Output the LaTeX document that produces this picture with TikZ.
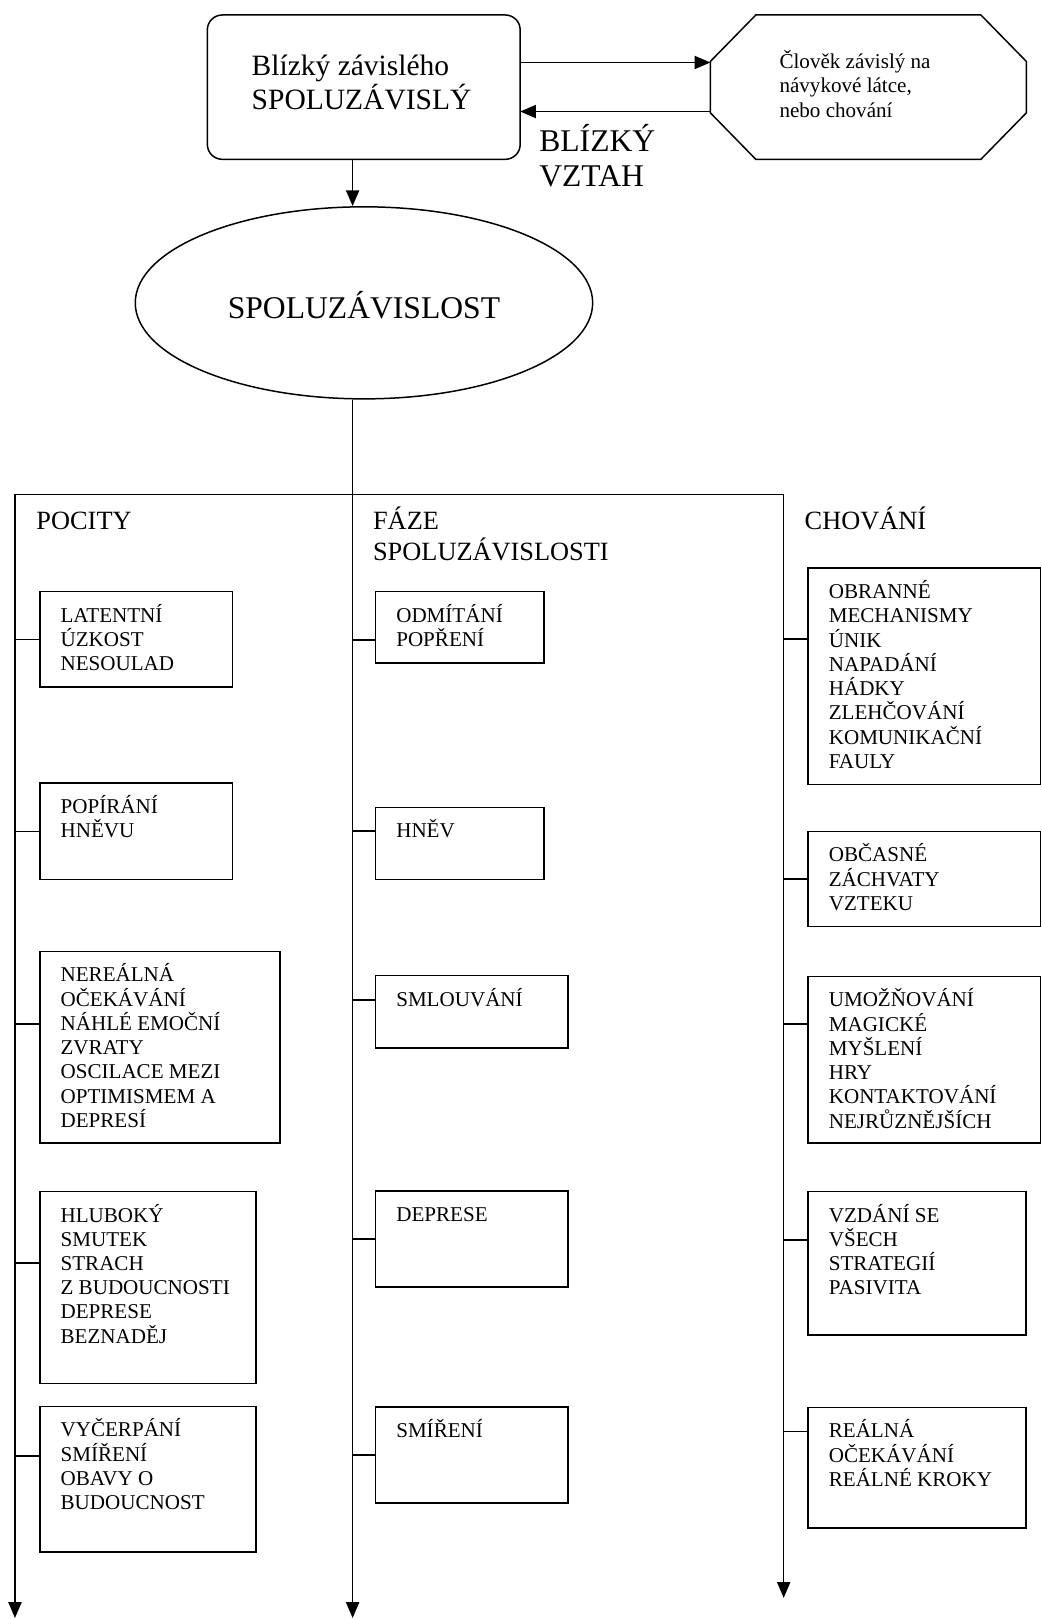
\documentclass[tikz,border=0pt]{standalone}
\usepackage{fontspec}
\setmainfont{Liberation Serif}
\usetikzlibrary{arrows.meta,shapes.geometric}

% one drawing unit
\newdimen\pxu
\pxu=0.020654cm

% framed block: width, height, left indent, first baseline, lines
\newcommand\framedtext[5]{\parbox[c][#2\pxu][t]{#1\pxu}{\raggedright\leftskip=#3\pxu\relax\rule{0pt}{#4\pxu}#5\par}}
% loose text block, referenced at its first baseline
\newcommand\textblock[2]{\parbox[t]{#1\pxu}{\raggedright #2}}
% branch from a trunk to the left side of a box
\newcommand\branch[3]{\draw[lw] ([yshift=#2\pxu]#1.west) -- ([yshift=#2\pxu]#1.west -| #3);}

\tikzset{
  lw/.style={line width=0.85pt},
  >={Triangle[length=9pt, width=7.5pt]},
  arr/.style={lw, ->},
  cell/.style={draw, lw, inner sep=0pt, outer sep=0pt, anchor=north west,
    font=\fontsize{12}{13.8}\selectfont},
  head/.style={inner sep=0pt, anchor=base west, font=\fontsize{15}{17.6}\selectfont},
}

\begin{document}
\begin{tikzpicture}[x=0.020654cm, y=-0.020654cm]
\fill[white] (0,0) rectangle (1009,1568);
\useasboundingbox (0,0) rectangle (1009,1568);

% top: the close person and the dependent person
\node[cell, rounded corners=8.5pt, font=\fontsize{16.8}{19.3}\selectfont] (r) at (200.8,14.5)
  {\framedtext{303}{139.8}{43}{59}{Blízký závislého\\SPOLUZÁVISLÝ}};
\node[inner sep=0pt, outer sep=0pt, anchor=north west, font=\fontsize{12}{13.8}\selectfont] (o) at (688,14.5)
  {\framedtext{306}{139.8}{67}{52}{Člověk závislý na\\návykové látce,\\nebo chování}};
\draw[lw] ([xshift=44\pxu]o.north west) -- ([xshift=-44\pxu]o.north east)
  -- ([yshift=-45\pxu]o.north east) -- ([yshift=45\pxu]o.south east)
  -- ([xshift=-44\pxu]o.south east) -- ([xshift=44\pxu]o.south west)
  -- ([yshift=45\pxu]o.south west) -- ([yshift=-45\pxu]o.north west) -- cycle;

\draw[arr] ([yshift=23.9\pxu]r.east) -- ([yshift=23.9\pxu]r.east -| o.west);
\draw[arr] ([yshift=-23.6\pxu]r.east -| o.west) -- ([yshift=-23.6\pxu]r.east);
\node[inner sep=0pt, anchor=base west, font=\fontsize{18}{20}\selectfont] (lbl) at (522,147)
  {\textblock{150}{BLÍZKÝ\\VZTAH}};

% central notion
\node[ellipse, draw, lw, minimum width=443\pxu, minimum height=186\pxu, inner sep=0pt,
  text height=17.6pt, text depth=0pt, font=\fontsize{18}{20.7}\selectfont] (e) at (352.5,293.3)
  {SPOLUZÁVISLOST};

% trunks
\coordinate (mid) at (341.5,0);
\coordinate (bl) at (14.5,479);
\coordinate (br) at (759,479);
\coordinate (lend) at (14.5,1567);
\coordinate (mend) at (341.5,1567);
\coordinate (rend) at (759,1547.5);

\draw[arr] (r.south -| mid) -- (e.north -| mid);
\draw[arr] (e.south -| mid) -- (mend);
\draw[lw, <->] (lend) -- (bl) -- (br) -- (rend);

% column headings
\node[head] (hp) at (35,513) {POCITY};
\node[head] (hf) at (361,513) {\textblock{300}{FÁZE\\SPOLUZÁVISLOSTI}};
\node[head] (hc) at (779,513) {CHOVÁNÍ};

% feelings
\node[cell] (p1) at (38.7,573) {\framedtext{186.3}{92.5}{20}{29.5}{LATENTNÍ\\ÚZKOST\\NESOULAD}};
\node[cell] (p2) at (38.7,758.5) {\framedtext{186.3}{93.5}{20}{29.5}{POPÍRÁNÍ\\HNĚVU}};
\node[cell] (p3) at (38.7,921.5) {\framedtext{232.3}{185.5}{20}{29.5}{NEREÁLNÁ\\OČEKÁVÁNÍ\\NÁHLÉ EMOČNÍ\\ZVRATY\\OSCILACE MEZI\\OPTIMISMEM A\\DEPRESÍ}};
\node[cell] (p4) at (38.7,1154) {\framedtext{209.3}{186}{20}{29.5}{HLUBOKÝ\\SMUTEK\\STRACH\\Z BUDOUCNOSTI\\DEPRESE\\BEZNADĚJ}};
\node[cell] (p5) at (38.7,1362) {\framedtext{209.3}{141}{20}{29.5}{VYČERPÁNÍ\\SMÍŘENÍ\\OBAVY O\\BUDOUCNOST}};

% phases
\node[cell] (f1) at (363.8,573) {\framedtext{163}{69}{20}{29.5}{ODMÍTÁNÍ\\POPŘENÍ}};
\node[cell] (f2) at (363.8,782) {\framedtext{163}{70}{20}{29.5}{HNĚV}};
\node[cell] (f3) at (363.8,945) {\framedtext{186.5}{70}{20}{29.5}{SMLOUVÁNÍ}};
\node[cell] (f4) at (363.8,1153.3) {\framedtext{186.5}{93.3}{20}{29.5}{DEPRESE}};
\node[cell] (f5) at (363.8,1362.8) {\framedtext{186.5}{92.9}{20}{29.5}{SMÍŘENÍ}};

% behaviour
\node[cell] (c1) at (782.7,550.3) {\framedtext{224.8}{209.7}{20}{29.5}{OBRANNÉ\\MECHANISMY\\ÚNIK\\NAPADÁNÍ\\HÁDKY\\ZLEHČOVÁNÍ\\KOMUNIKAČNÍ\\FAULY}};
\node[cell] (c2) at (782.7,805.3) {\framedtext{224.8}{92}{20}{29.5}{OBČASNÉ\\ZÁCHVATY\\VZTEKU}};
\node[cell] (c3) at (782.7,945.7) {\framedtext{224.8}{161.3}{20}{29.5}{UMOŽŇOVÁNÍ\\MAGICKÉ\\MYŠLENÍ\\HRY\\KONTAKTOVÁNÍ\\NEJRŮZNĚJŠÍCH}};
\node[cell] (c4) at (782.7,1154) {\framedtext{210.8}{138.7}{20}{29.5}{VZDÁNÍ SE\\VŠECH\\STRATEGIÍ\\PASIVITA}};
\node[cell] (c5) at (782.7,1363) {\framedtext{210.8}{117}{20}{29.5}{REÁLNÁ\\OČEKÁVÁNÍ\\REÁLNÉ KROKY}};

% branches
\branch{p1}{0}{bl}
\branch{p2}{0}{bl}
\branch{p3}{22.4}{bl}
\branch{p4}{23.7}{bl}
\branch{p5}{22.5}{bl}
\branch{f1}{-12.5}{mid}
\branch{f2}{12}{mid}
\branch{f3}{11.6}{mid}
\branch{f4}{0}{mid}
\branch{f5}{0}{mid}
\branch{c1}{36.4}{br}
\branch{c2}{0}{br}
\branch{c3}{34.6}{br}
\branch{c4}{22.6}{br}
\branch{c5}{35}{br}
\end{tikzpicture}
\end{document}
